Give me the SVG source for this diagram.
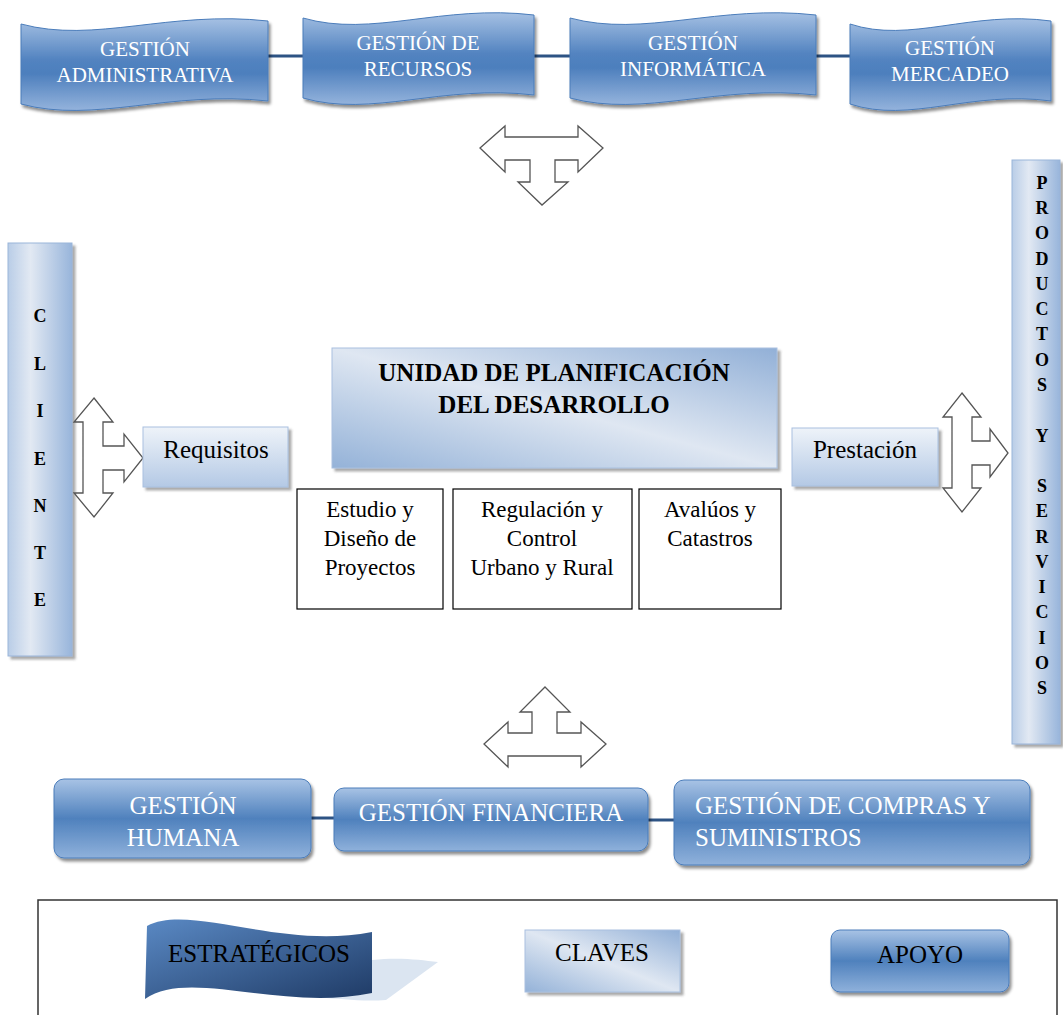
<svg xmlns="http://www.w3.org/2000/svg" width="1063" height="1015" viewBox="0 0 1063 1015">
  <defs>
    <linearGradient id="gWave" x1="0" y1="0" x2="0" y2="1">
      <stop offset="0" stop-color="#a5c0e3"/>
      <stop offset="0.45" stop-color="#5283c0"/>
      <stop offset="0.6" stop-color="#4d7fbd"/>
      <stop offset="1" stop-color="#94b3dc"/>
    </linearGradient>
    <linearGradient id="gSupport" x1="0" y1="0" x2="0" y2="1">
      <stop offset="0" stop-color="#a8c3e5"/>
      <stop offset="0.5" stop-color="#4f81bd"/>
      <stop offset="1" stop-color="#8fb1db"/>
    </linearGradient>
    <linearGradient id="gBarL" x1="0" y1="0" x2="1" y2="0">
      <stop offset="0" stop-color="#b9cde7"/>
      <stop offset="0.35" stop-color="#e2e9f3"/>
      <stop offset="1" stop-color="#98b5db"/>
    </linearGradient>
    <linearGradient id="gKey" x1="0" y1="1" x2="1" y2="0">
      <stop offset="0" stop-color="#94b2d8"/>
      <stop offset="0.5" stop-color="#dfe7f2"/>
      <stop offset="1" stop-color="#92b0d7"/>
    </linearGradient>
    <linearGradient id="gSmall" x1="0" y1="0" x2="0" y2="1">
      <stop offset="0" stop-color="#eef3f9"/>
      <stop offset="1" stop-color="#b4c9e5"/>
    </linearGradient>
    <linearGradient id="gStrat" x1="0" y1="0" x2="1" y2="1">
      <stop offset="0" stop-color="#5a89c4"/>
      <stop offset="1" stop-color="#1f3b66"/>
    </linearGradient>
    <filter id="shadow" x="-10%" y="-10%" width="130%" height="140%">
      <feDropShadow dx="2" dy="3" stdDeviation="1.5" flood-color="#000" flood-opacity="0.45"/>
    </filter>
    <filter id="shadowLight" x="-10%" y="-10%" width="130%" height="130%">
      <feDropShadow dx="3" dy="3" stdDeviation="1.2" flood-color="#555" flood-opacity="0.5"/>
    </filter>
  </defs>
  <style>
    .wave { fill: url(#gWave); stroke: #4a7cba; stroke-width: 1; filter: url(#shadow); }
    .support { fill: url(#gSupport); stroke: #4a7cba; stroke-width: 1; filter: url(#shadow); }
    .bar { fill: url(#gBarL); stroke: #9ab5d9; stroke-width: 1; filter: url(#shadowLight); }
    .key { fill: url(#gKey); stroke: #a9c0df; stroke-width: 1; filter: url(#shadowLight); }
    .small { fill: url(#gSmall); stroke: #a9c0df; stroke-width: 1; filter: url(#shadowLight); }
    .sub { fill: #fff; stroke: #000; stroke-width: 1.2; }
    .arrow { fill: #fff; stroke: #555; stroke-width: 1.3; stroke-linejoin: miter; }
    .link { stroke: #2d5384; stroke-width: 3; fill: none; }
    .wt { font-family: "Liberation Serif", "Times New Roman", serif; font-size: 21px; fill: #fff; text-anchor: middle; }
    .st { font-family: "Liberation Serif", "Times New Roman", serif; font-size: 25px; fill: #fff; }
    .bt { font-family: "Liberation Serif", "Times New Roman", serif; font-size: 23px; fill: #000; text-anchor: middle; }
    .lt { font-family: "Liberation Serif", "Times New Roman", serif; font-size: 25px; fill: #000; text-anchor: middle; }
    .vt { font-family: "Liberation Serif", "Times New Roman", serif; font-size: 18px; font-weight: bold; fill: #000; text-anchor: middle; }
    .title { font-family: "Liberation Serif", "Times New Roman", serif; font-size: 25px; font-weight: bold; fill: #000; text-anchor: middle; }
  </style>

  <!-- connectors: links between process boxes and the block arrows -->
  <g id="connectors">
    <line class="link" x1="268" y1="56" x2="303" y2="56"/>
    <line class="link" x1="534" y1="56" x2="570" y2="56"/>
    <line class="link" x1="816" y1="56" x2="850" y2="56"/>
    <line class="link" x1="311" y1="818" x2="334" y2="818"/>
    <line class="link" x1="648" y1="820" x2="674" y2="820"/>
    <polygon id="arrow-top" class="arrow" points="480,148 505,126 505,137 578,137 578,126 603,148 578,172 578,160 555,160 555,182 568,182 542,205 518,182 530,182 530,160 505,160 505,172"/>
    <polygon id="arrow-left" class="arrow" points="94,398 113,422 103,422 103,446 124,446 124,434 143,458 124,482 124,470 103,470 103,493 113,493 94,517 74,493 83,493 83,422 74,422"/>
    <polygon id="arrow-right" class="arrow" points="962,393 981,417 972,417 972,441 990,441 990,429 1008,453 990,477 990,465 972,465 972,488 981,488 962,512 943,488 952,488 952,417 943,417"/>
    <polygon id="arrow-bottom" class="arrow" points="545,687 570,712 557,712 557,733 581,733 581,722 606,744 581,767 581,756 508,756 508,767 484,744 508,722 508,733 532,733 532,712 520,712"/>
  </g>

  <!-- strategic processes -->
  <g id="gestion-administrativa">
    <path class="wave" d="M21,24 C95,44 169,10 268,21 L268,101 C169,90 95,124 21,104 Z"/>
    <text class="wt" x="145" y="56">GESTIÓN</text>
    <text class="wt" x="145" y="82">ADMINISTRATIVA</text>
  </g>
  <g id="gestion-recursos">
    <path class="wave" d="M303,18 C372,38 442,4 534,15 L534,95 C442,84 372,118 303,98 Z"/>
    <text class="wt" x="418" y="50">GESTIÓN DE</text>
    <text class="wt" x="418" y="76">RECURSOS</text>
  </g>
  <g id="gestion-informatica">
    <path class="wave" d="M570,18 C644,38 718,4 816,15 L816,95 C718,84 644,118 570,98 Z"/>
    <text class="wt" x="693" y="50">GESTIÓN</text>
    <text class="wt" x="693" y="76">INFORMÁTICA</text>
  </g>
  <g id="gestion-mercadeo">
    <path class="wave" d="M850,24 C910,44 971,10 1051,21 L1051,101 C971,90 910,124 850,104 Z"/>
    <text class="wt" x="950" y="55">GESTIÓN</text>
    <text class="wt" x="950" y="81">MERCADEO</text>
  </g>

  <!-- client column -->
  <g id="cliente">
    <rect class="bar" x="8" y="243" width="64" height="413"/>
    <text class="vt" x="40" y="322">C</text>
    <text class="vt" x="40" y="370">L</text>
    <text class="vt" x="40" y="417">I</text>
    <text class="vt" x="40" y="465">E</text>
    <text class="vt" x="40" y="512">N</text>
    <text class="vt" x="40" y="559">T</text>
    <text class="vt" x="40" y="606">E</text>
  </g>

  <g id="requisitos">
    <rect class="small" x="143" y="427" width="145" height="60"/>
    <text class="lt" x="216" y="458">Requisitos</text>
  </g>

  <!-- key process -->
  <g id="unidad">
    <rect class="key" x="332" y="348" width="445" height="120"/>
    <text class="title" x="554" y="381">UNIDAD DE PLANIFICACIÓN</text>
    <text class="title" x="554" y="413">DEL DESARROLLO</text>
  </g>
  <g id="estudio">
    <rect class="sub" x="297" y="489" width="146" height="120"/>
    <text class="bt" x="370" y="517">Estudio y</text>
    <text class="bt" x="370" y="546">Diseño de</text>
    <text class="bt" x="370" y="575">Proyectos</text>
  </g>
  <g id="regulacion">
    <rect class="sub" x="453" y="489" width="179" height="120"/>
    <text class="bt" x="542" y="517">Regulación y</text>
    <text class="bt" x="542" y="546">Control</text>
    <text class="bt" x="542" y="575">Urbano y Rural</text>
  </g>
  <g id="avaluos">
    <rect class="sub" x="639" y="489" width="142" height="120"/>
    <text class="bt" x="710" y="517">Avalúos y</text>
    <text class="bt" x="710" y="546">Catastros</text>
  </g>

  <g id="prestacion">
    <rect class="small" x="792" y="428" width="146" height="58"/>
    <text class="lt" x="865" y="458">Prestación</text>
  </g>

  <!-- products and services column -->
  <g id="productos-servicios">
    <rect class="bar" x="1012" y="160" width="48" height="584"/>
    <text class="vt" x="1042" y="189">P</text>
    <text class="vt" x="1042" y="214">R</text>
    <text class="vt" x="1042" y="239">O</text>
    <text class="vt" x="1042" y="265">D</text>
    <text class="vt" x="1042" y="290">U</text>
    <text class="vt" x="1042" y="315">C</text>
    <text class="vt" x="1042" y="340">T</text>
    <text class="vt" x="1042" y="366">O</text>
    <text class="vt" x="1042" y="391">S</text>
    <text class="vt" x="1042" y="442">Y</text>
    <text class="vt" x="1042" y="492">S</text>
    <text class="vt" x="1042" y="517">E</text>
    <text class="vt" x="1042" y="543">R</text>
    <text class="vt" x="1042" y="568">V</text>
    <text class="vt" x="1042" y="593">I</text>
    <text class="vt" x="1042" y="618">C</text>
    <text class="vt" x="1042" y="644">I</text>
    <text class="vt" x="1042" y="669">O</text>
    <text class="vt" x="1042" y="694">S</text>
  </g>

  <!-- support processes -->
  <g id="gestion-humana">
    <rect class="support" x="54" y="779" width="257" height="79" rx="10"/>
    <text class="st" x="183" y="814" text-anchor="middle">GESTIÓN</text>
    <text class="st" x="183" y="846" text-anchor="middle">HUMANA</text>
  </g>
  <g id="gestion-financiera">
    <rect class="support" x="334" y="788" width="314" height="63" rx="10"/>
    <text class="st" x="491" y="821" text-anchor="middle">GESTIÓN FINANCIERA</text>
  </g>
  <g id="gestion-compras">
    <rect class="support" x="674" y="780" width="356" height="85" rx="10"/>
    <text class="st" x="695" y="814">GESTIÓN DE COMPRAS Y</text>
    <text class="st" x="695" y="846">SUMINISTROS</text>
  </g>

  <!-- legend -->
  <g id="leyenda">
    <rect x="38" y="900" width="1019" height="140" fill="none" stroke="#333" stroke-width="1.5"/>
    <path d="M330,968 L372,960 C400,957 420,960 438,962 L386,1000 C360,1002 340,998 320,998 Z" fill="#dbe5f1"/>
    <path d="M147,926 C190,903 280,950 372,932 L372,993 C280,1012 190,968 145,999 Z" fill="url(#gStrat)"/>
    <text class="lt" x="259" y="962" font-size="26">ESTRATÉGICOS</text>
    <rect class="key" x="525" y="930" width="155" height="62"/>
    <text class="lt" x="602" y="961">CLAVES</text>
    <rect class="support" x="831" y="930" width="178" height="62" rx="9"/>
    <text class="lt" x="920" y="963">APOYO</text>
  </g>
</svg>
